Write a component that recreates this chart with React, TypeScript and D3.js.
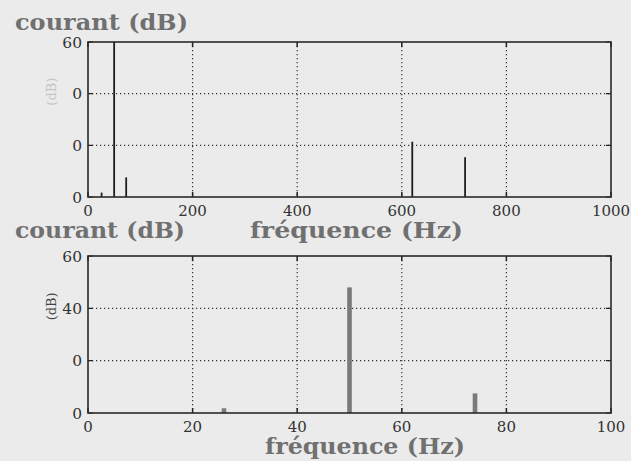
import React, { useEffect, useRef } from "react";
import * as d3 from "d3";

// top spectrum (0-1000 Hz)
const topFreqs = [26, 50, 73, 620, 721];
const topLevels = [1.7, 60, 7.6, 21.4, 15.4];
const topXTicks = [0, 200, 400, 600, 800, 1000];
const topYTicks = [0, 20, 40, 60];
const topYLabels = ["0", "0", "0", "60"]; // as printed (digits lost in scan)

// bottom spectrum zoom (0-100 Hz)
const botFreqs = [26, 50, 74];
const botLevels = [1.8, 48, 7.5];
const botXTicks = [0, 20, 40, 60, 80, 100];
const botYTicks = [0, 20, 40, 60];
const botYLabels = ["0", "0", "40", "60"];

const W = 631;
const H = 461;
const serif = "'DejaVu Serif', 'Liberation Serif', serif";

interface Panel {
  top: number;
  bottom: number;
  xMax: number;
  freqs: number[];
  levels: number[];
  xTicks: number[];
  yTicks: number[];
  yLabels: string[];
  barWidth: number;
  barColor: string;
  labelColor: string;
}

export default function App() {
  const svgRef = useRef<SVGSVGElement>(null);

  useEffect(() => {
    if (!svgRef.current) return;
    const svg = d3.select(svgRef.current);
    svg.selectAll("*").remove();

    svg.append("rect").attr("width", W).attr("height", H).attr("fill", "#ebebeb");

    const left = 88;
    const right = 611;

    const drawPanel = (p: Panel) => {
      const x = d3.scaleLinear().domain([0, p.xMax]).range([left, right]);
      const y = d3.scaleLinear().domain([0, 60]).range([p.bottom, p.top]);
      const g = svg.append("g");

      // dotted grid
      g.selectAll(".vg")
        .data(p.xTicks.slice(1, -1))
        .enter()
        .append("line")
        .attr("x1", (d) => x(d))
        .attr("x2", (d) => x(d))
        .attr("y1", p.top)
        .attr("y2", p.bottom)
        .attr("stroke", "#333")
        .attr("stroke-width", 1.2)
        .attr("stroke-dasharray", "1.2,2.8");
      g.selectAll(".hg")
        .data(p.yTicks.slice(1, -1))
        .enter()
        .append("line")
        .attr("x1", left)
        .attr("x2", right)
        .attr("y1", (d) => y(d))
        .attr("y2", (d) => y(d))
        .attr("stroke", "#333")
        .attr("stroke-width", 1.2)
        .attr("stroke-dasharray", "1.2,2.8");

      // tick marks inside the frame
      g.selectAll(".xt")
        .data(p.xTicks)
        .enter()
        .append("path")
        .attr("d", (d) => `M${x(d)},${p.top}v5M${x(d)},${p.bottom}v-5`)
        .attr("stroke", "#222")
        .attr("stroke-width", 1.5);
      g.selectAll(".yt")
        .data(p.yTicks)
        .enter()
        .append("path")
        .attr("d", (d) => `M${left},${y(d)}h5M${right},${y(d)}h-5`)
        .attr("stroke", "#222")
        .attr("stroke-width", 1.2);

      // spectral lines
      g.selectAll(".bar")
        .data(p.freqs.map((f, i) => ({ f, v: p.levels[i] })))
        .enter()
        .append("rect")
        .attr("x", (d) => x(d.f) - p.barWidth / 2)
        .attr("width", p.barWidth)
        .attr("y", (d) => y(d.v))
        .attr("height", (d) => p.bottom - y(d.v))
        .attr("fill", p.barColor);

      // frame
      g.append("rect")
        .attr("x", left)
        .attr("y", p.top)
        .attr("width", right - left)
        .attr("height", p.bottom - p.top)
        .attr("fill", "none")
        .attr("stroke", "#2a2a2a")
        .attr("stroke-width", 1.6);

      // tick labels
      g.selectAll(".xl")
        .data(p.xTicks)
        .enter()
        .append("text")
        .attr("x", (d) => x(d))
        .attr("y", p.bottom + 19)
        .attr("text-anchor", "middle")
        .attr("font-family", serif)
        .attr("font-size", 15)
        .attr("fill", "#333")
        .text((d) => String(d));
      g.selectAll(".yl")
        .data(p.yTicks)
        .enter()
        .append("text")
        .attr("x", left - 6)
        .attr("y", (d) => y(d) + 5.5)
        .attr("text-anchor", "end")
        .attr("font-family", serif)
        .attr("font-size", 15.5)
        .attr("fill", "#333")
        .text((d, i) => p.yLabels[i]);

      g.append("text")
        .attr("transform", `translate(56, ${y(40) - 2}) rotate(-90)`)
        .attr("text-anchor", "middle")
        .attr("font-family", serif)
        .attr("font-size", 13)
        .attr("fill", p.labelColor)
        .text("(dB)");
    };

    drawPanel({
      top: 42, bottom: 197, xMax: 1000,
      freqs: topFreqs, levels: topLevels,
      xTicks: topXTicks, yTicks: topYTicks, yLabels: topYLabels,
      barWidth: 1.8, barColor: "#1e1e1e", labelColor: "#c4c4c4",
    });
    drawPanel({
      top: 256, bottom: 413, xMax: 100,
      freqs: botFreqs, levels: botLevels,
      xTicks: botXTicks, yTicks: botYTicks, yLabels: botYLabels,
      barWidth: 4.6, barColor: "#7a7a7a", labelColor: "#444",
    });

    // titles
    const titles = [
      { t: "courant (dB)", x: 15, y: 30, w: 173 },
      { t: "courant (dB)", x: 15, y: 238, w: 170 },
      { t: "fréquence (Hz)", x: 250, y: 238, w: 213 },
      { t: "fréquence (Hz)", x: 265, y: 454, w: 200 },
    ];
    svg.selectAll(".title")
      .data(titles)
      .enter()
      .append("text")
      .attr("x", (d) => d.x)
      .attr("y", (d) => d.y)
      .attr("font-family", serif)
      .attr("font-weight", "bold")
      .attr("font-size", 22)
      .attr("fill", "#707070")
      .attr("textLength", (d) => d.w)
      .attr("lengthAdjust", "spacingAndGlyphs")
      .text((d) => d.t);
  }, []);

  return (
    <svg
      ref={svgRef}
      width={W}
      height={H}
      style={{ position: "absolute", left: 0, top: 0, display: "block" }}
    />
  );
}
